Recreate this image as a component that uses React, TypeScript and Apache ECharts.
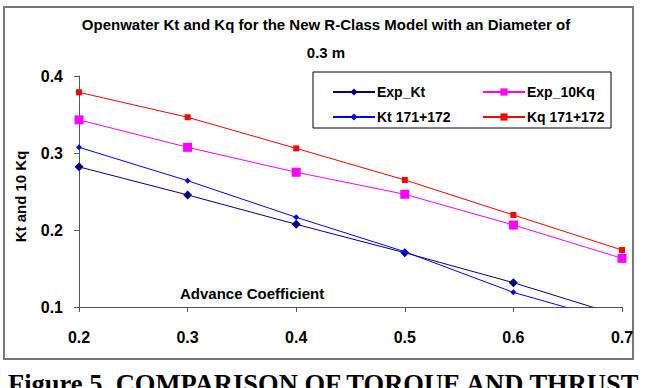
import React, { useEffect, useRef } from "react";
import * as echarts from "echarts";

const advance = [0.2, 0.3, 0.4, 0.5, 0.6, 0.7];
const expKt = [0.282, 0.2455, 0.2074, 0.1705, 0.1316, 0.088];
const kt171 = [0.3074, 0.264, 0.2165, 0.1718, 0.119, 0.079];
const exp10Kq = [0.343, 0.3074, 0.275, 0.2464, 0.2065, 0.1632];
const kq171 = [0.3788, 0.3464, 0.306, 0.265, 0.2195, 0.174];

const titleLines = ["Openwater Kt and Kq for the New R-Class Model with an Diameter of", "0.3 m"];
const caption = "Figure 5. COMPARISON OF TORQUE AND THRUST";

const FONT = "'Liberation Sans', Arial, sans-serif";

export default function App() {
  const ref = useRef<HTMLDivElement>(null);
  useEffect(() => {
    if (!ref.current) return;
    const chart = echarts.init(ref.current, undefined, { renderer: "svg" });
    const pts = (ys: number[]) => advance.map((x, i) => [x, ys[i]]);
    const labelStyle = { color: "#000", fontFamily: FONT, fontWeight: "bold" as const, fontSize: 15 };
    chart.setOption({
      animation: false,
      backgroundColor: "#fff",
      title: {
        text: titleLines.join("\n"),
        left: 321,
        textAlign: "center",
        top: 5,
        textStyle: { fontFamily: FONT, fontWeight: "bold", fontSize: 15, color: "#000", lineHeight: 28 },
      },
      grid: { left: 79, right: 23, top: 76, bottom: 81, containLabel: false },
      xAxis: {
        type: "value",
        min: 0.2,
        max: 0.7,
        interval: 0.1,
        axisLine: { show: true, lineStyle: { color: "#555", width: 1 } },
        axisTick: { show: true, length: 5, inside: false, lineStyle: { color: "#555" } },
        splitLine: { show: false },
        axisLabel: { ...labelStyle, fontSize: 16, margin: 22, formatter: (v: number) => v.toFixed(1) },
      },
      yAxis: {
        type: "value",
        min: 0.1,
        max: 0.4,
        interval: 0.1,
        name: "Kt and 10 Kq",
        nameLocation: "middle",
        nameGap: 51,
        nameRotate: 90,
        nameTextStyle: { ...labelStyle, padding: [0, 0, 0, -10] },
        axisLine: { show: true, lineStyle: { color: "#555", width: 1 } },
        axisTick: { show: true, length: 5, lineStyle: { color: "#555" } },
        splitLine: { show: false },
        axisLabel: { ...labelStyle, fontSize: 16, margin: 16, formatter: (v: number) => v.toFixed(1) },
      },
      legend: [
        {
          left: 327,
          top: 80,
          orient: "vertical",
          itemWidth: 42,
          itemHeight: 9,
          itemGap: 11,
          data: ["Exp_Kt", "Kt 171+172"],
          textStyle: { ...labelStyle, fontSize: 14, padding: [0, 0, 0, -3] },
        },
        {
          left: 477,
          top: 80,
          orient: "vertical",
          itemWidth: 42,
          itemHeight: 9,
          itemGap: 11,
          data: ["Exp_10Kq", "Kq 171+172"],
          textStyle: { ...labelStyle, fontSize: 14, padding: [0, 0, 0, -3] },
        },
      ],
      graphic: [
        {
          type: "rect",
          z: -1,
          shape: { x: 4, y: 7, width: 629, height: 352 },
          style: { fill: "#fff", stroke: "#777", lineWidth: 2 },
        },
        {
          type: "rect",
          z: 1,
          shape: { x: 313, y: 72, width: 298, height: 56 },
          style: { fill: "#fff", stroke: "#000", lineWidth: 1 },
        },
        {
          type: "text",
          left: 180,
          top: 286,
          style: { text: "Advance Coefficient", fill: "#000", font: `bold 15px ${FONT}` },
        },
        {
          type: "text",
          left: 8,
          top: 370,
          style: { text: caption, fill: "#000", font: "bold 26.5px 'Liberation Serif', 'Times New Roman', serif" },
        },
      ],
      series: [
        {
          name: "Exp_Kt",
          type: "line",
          data: pts(expKt),
          symbol: "diamond",
          symbolSize: 9,
          clip: true,
          lineStyle: { color: "#000080", width: 1 },
          itemStyle: { color: "#000080" },
        },
        {
          name: "Exp_10Kq",
          type: "line",
          data: pts(exp10Kq),
          symbol: "rect",
          symbolSize: 9,
          clip: true,
          lineStyle: { color: "#ff00ff", width: 1 },
          itemStyle: { color: "#ff00ff" },
        },
        {
          name: "Kt 171+172",
          type: "line",
          data: pts(kt171),
          symbol: "diamond",
          symbolSize: 6,
          clip: true,
          lineStyle: { color: "#0000ff", width: 1 },
          itemStyle: { color: "#0000ff" },
        },
        {
          name: "Kq 171+172",
          type: "line",
          data: pts(kq171),
          symbol: "rect",
          symbolSize: 6,
          clip: true,
          lineStyle: { color: "#ff0000", width: 1 },
          itemStyle: { color: "#ff0000" },
        },
      ],
    });
    return () => chart.dispose();
  }, []);
  return (
    <div
      ref={ref}
      style={{ position: "absolute", left: 0, top: 0, width: 645, height: 388, background: "#fff" }}
    />
  );
}
